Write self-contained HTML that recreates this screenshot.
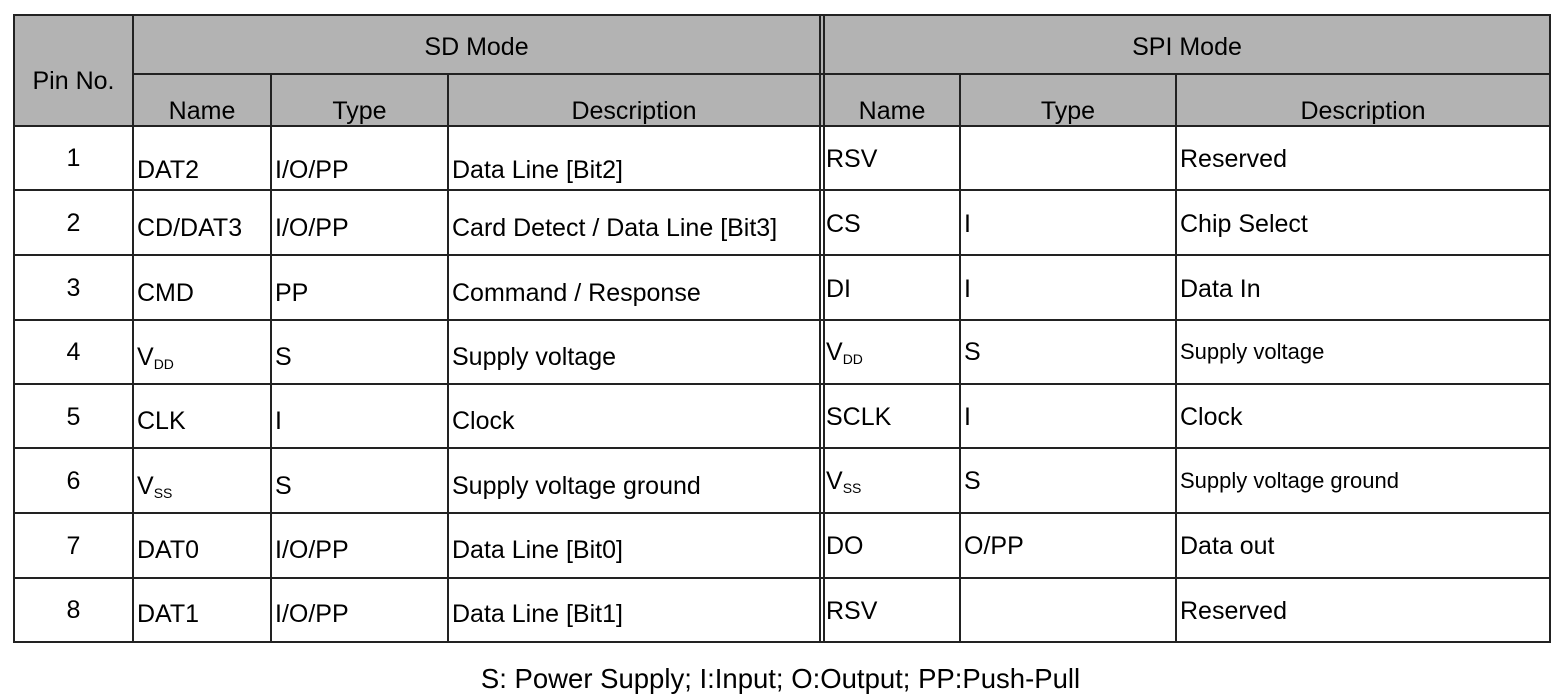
<!DOCTYPE html>
<html><head><meta charset="utf-8"><style>
body{margin:0;width:1561px;height:700px;background:#fff;position:relative;overflow:hidden;font-family:"Liberation Sans",Arial,sans-serif;color:#000}
div{position:absolute}
.g{background:#b3b3b3}
.h{height:2px;background:#222}
.v{width:2px;background:#222}
.t{font-size:25px;line-height:26px;white-space:nowrap}
.s{font-size:22px}
.c{text-align:center}
sub{font-size:14px;vertical-align:-4px;line-height:0}
</style></head><body>
<div class="g" style="left:14px;top:14px;width:1536px;height:112px"></div>
<div class="h" style="left:14px;top:14px;width:1537px"></div>
<div class="h" style="left:133px;top:73px;width:1418px"></div>
<div class="h" style="left:14px;top:125px;width:1537px"></div>
<div class="h" style="left:14px;top:189px;width:1537px"></div>
<div class="h" style="left:14px;top:254px;width:1537px"></div>
<div class="h" style="left:14px;top:319px;width:1537px"></div>
<div class="h" style="left:14px;top:383px;width:1537px"></div>
<div class="h" style="left:14px;top:447px;width:1537px"></div>
<div class="h" style="left:14px;top:512px;width:1537px"></div>
<div class="h" style="left:14px;top:577px;width:1537px"></div>
<div class="h" style="left:14px;top:641px;width:1537px"></div>
<div class="v" style="left:13px;top:14px;height:629px"></div>
<div class="v" style="left:132px;top:14px;height:629px"></div>
<div class="v" style="left:270px;top:74px;height:569px"></div>
<div class="v" style="left:447px;top:74px;height:569px"></div>
<div class="v" style="left:819px;top:14px;height:629px"></div>
<div class="v" style="left:823px;top:14px;height:629px"></div>
<div class="v" style="left:959px;top:74px;height:569px"></div>
<div class="v" style="left:1175px;top:74px;height:569px"></div>
<div class="v" style="left:1549px;top:14px;height:629px"></div>
<div class="t c" style="left:14px;width:119px;top:68px">Pin No.</div>
<div class="t c" style="left:133px;width:687px;top:34px">SD Mode</div>
<div class="t c" style="left:824px;width:726px;top:34px">SPI Mode</div>
<div class="t c" style="left:133px;width:138px;top:98px">Name</div>
<div class="t c" style="left:271px;width:177px;top:98px">Type</div>
<div class="t c" style="left:448px;width:372px;top:98px">Description</div>
<div class="t c" style="left:824px;width:136px;top:98px">Name</div>
<div class="t c" style="left:960px;width:216px;top:98px">Type</div>
<div class="t c" style="left:1176px;width:374px;top:98px">Description</div>
<div class="t c" style="left:14px;width:119px;top:145px">1</div>
<div class="t c" style="left:14px;width:119px;top:210px">2</div>
<div class="t c" style="left:14px;width:119px;top:275px">3</div>
<div class="t c" style="left:14px;width:119px;top:339px">4</div>
<div class="t c" style="left:14px;width:119px;top:404px">5</div>
<div class="t c" style="left:14px;width:119px;top:468px">6</div>
<div class="t c" style="left:14px;width:119px;top:533px">7</div>
<div class="t c" style="left:14px;width:119px;top:597px">8</div>
<div class="t" style="left:137px;top:157px">DAT2</div><div class="t" style="left:275px;top:157px">I/O/PP</div><div class="t" style="left:452px;top:157px">Data Line [Bit2]</div>
<div class="t" style="left:137px;top:215px">CD/DAT3</div><div class="t" style="left:275px;top:215px">I/O/PP</div><div class="t" style="left:452px;top:215px">Card Detect / Data Line [Bit3]</div>
<div class="t" style="left:137px;top:280px">CMD</div><div class="t" style="left:275px;top:280px">PP</div><div class="t" style="left:452px;top:280px">Command / Response</div>
<div class="t" style="left:137px;top:344px">V<sub>DD</sub></div><div class="t" style="left:275px;top:344px">S</div><div class="t" style="left:452px;top:344px">Supply voltage</div>
<div class="t" style="left:137px;top:408px">CLK</div><div class="t" style="left:275px;top:408px">I</div><div class="t" style="left:452px;top:408px">Clock</div>
<div class="t" style="left:137px;top:473px">V<sub>SS</sub></div><div class="t" style="left:275px;top:473px">S</div><div class="t" style="left:452px;top:473px">Supply voltage ground</div>
<div class="t" style="left:137px;top:537px">DAT0</div><div class="t" style="left:275px;top:537px">I/O/PP</div><div class="t" style="left:452px;top:537px">Data Line [Bit0]</div>
<div class="t" style="left:137px;top:601px">DAT1</div><div class="t" style="left:275px;top:601px">I/O/PP</div><div class="t" style="left:452px;top:601px">Data Line [Bit1]</div>
<div class="t" style="left:826px;top:146px">RSV</div><div class="t" style="left:1180px;top:146px">Reserved</div>
<div class="t" style="left:826px;top:211px">CS</div><div class="t" style="left:964px;top:211px">I</div><div class="t" style="left:1180px;top:211px">Chip Select</div>
<div class="t" style="left:826px;top:276px">DI</div><div class="t" style="left:964px;top:276px">I</div><div class="t" style="left:1180px;top:276px">Data In</div>
<div class="t" style="left:826px;top:339px">V<sub>DD</sub></div><div class="t" style="left:964px;top:339px">S</div><div class="t s" style="left:1180px;top:339px">Supply voltage</div>
<div class="t" style="left:826px;top:404px">SCLK</div><div class="t" style="left:964px;top:404px">I</div><div class="t" style="left:1180px;top:404px">Clock</div>
<div class="t" style="left:826px;top:468px">V<sub>SS</sub></div><div class="t" style="left:964px;top:468px">S</div><div class="t s" style="left:1180px;top:468px">Supply voltage ground</div>
<div class="t" style="left:826px;top:533px">DO</div><div class="t" style="left:964px;top:533px">O/PP</div><div class="t" style="left:1180px;top:533px">Data out</div>
<div class="t" style="left:826px;top:598px">RSV</div><div class="t" style="left:1180px;top:598px">Reserved</div>
<div class="t c" style="left:0;width:1561px;top:664px;font-size:27.5px;line-height:30px">S: Power Supply; I:Input; O:Output; PP:Push-Pull</div>
</body></html>
